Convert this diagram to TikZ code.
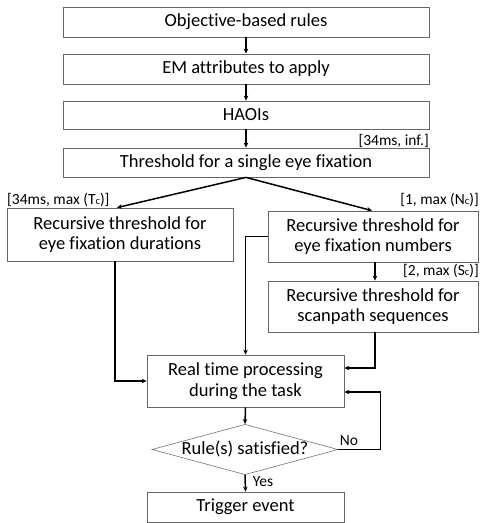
\documentclass[tikz,border=0pt]{standalone}
\usepackage{fontspec}
\setmainfont{Carlito}[Ligatures={NoCommon}]
\usetikzlibrary{shapes.geometric,arrows.meta,calc}
\tikzset{
  boxnode/.style={draw=black!60, line width=0.8pt, rectangle, align=center, inner sep=0pt, font=\fontsize{18.5}{20.5}\selectfont},
  dia/.style={draw=black!55, line width=0.6pt, diamond, aspect=3.7, inner sep=0pt, font=\fontsize{18.5}{20.5}\selectfont},
  conn/.style={line width=1.5pt, -{Stealth[length=5pt,width=4.5pt]}},
  lbl/.style={font=\fontsize{15.5}{17}\selectfont, inner sep=0pt}
}
\newcommand{\subc}{\raisebox{-0.3pt}{\fontsize{10.5}{11}\selectfont c}}
\begin{document}
\begin{tikzpicture}[x=1pt,y=-1pt]
\useasboundingbox (0,0) rectangle (480,523);
\node[boxnode, minimum width=366pt, minimum height=30pt] (b1) at (246,22) {Objective-based rules};
\node[boxnode, minimum width=366pt, minimum height=30pt] (b2) at (246,69) {EM attributes to apply};
\node[boxnode, minimum width=366pt, minimum height=28pt] (b3) at (246,115) {HAOIs};
\node[boxnode, minimum width=366pt, minimum height=29pt] (b4) at (246,162.5) {Threshold for a single eye fixation};
\node[boxnode, minimum width=226pt, minimum height=53pt] (bl) at (120,234.5) {Recursive threshold for\\eye fixation durations};
\node[boxnode, minimum width=210pt, minimum height=51pt] (br) at (373,236.5) {Recursive threshold for\\eye fixation numbers};
\node[boxnode, minimum width=210pt, minimum height=51pt] (bs) at (373,306.5) {Recursive threshold for\\scanpath sequences};
\node[boxnode, minimum width=197pt, minimum height=52pt] (rt) at (245.5,381) {Real time processing\\during the task};
\node[dia, minimum width=176pt, minimum height=47pt] (dm) at (245,449.5) {Rule(s) satisfied?};
\node[boxnode, minimum width=197pt, minimum height=30pt] (tr) at (245.5,507) {Trigger event};

\node[lbl, anchor=base east] (l1) at (429,145) {[34ms, inf.]};
\node[lbl, anchor=base west] (l2) at (7,204) {[34ms, max (T\subc)]};
\node[lbl, anchor=base east] (l3) at (479,204) {[1, max (N\subc)]};
\node[lbl, anchor=base east] (l4) at (479,275) {[2, max (S\subc)]};
\node[lbl, anchor=center] (lno) at (349,441) {No};
\node[lbl, anchor=center] (lyes) at (263,482) {Yes};

\draw[conn] (b1.south) -- (b2.north);
\draw[conn] (b2.south) -- (b3.north);
\draw[conn] (b3.south) -- (b4.north);
\draw[conn] (b4.south) -- ([xshift=-3pt]bl.north);
\draw[conn] (b4.south) -- ([xshift=-1pt]br.north);
\draw[conn] ([xshift=2pt]br.south) -- ([xshift=2pt]bs.north);
\draw[conn] (br.west) -| (rt.north);
\draw[conn] ([xshift=-5pt]bl.south) |- (rt.west);
\draw[conn] ([xshift=2pt]bs.south) |- ([yshift=13pt]rt.east);
\draw[conn] (dm.east) -- ++(42,0) |- ([yshift=-11pt]rt.east);
\draw[conn] (dm.south) -- (tr.north);
\draw[conn] (rt.south) -- (dm.north);
\end{tikzpicture}
\end{document}
